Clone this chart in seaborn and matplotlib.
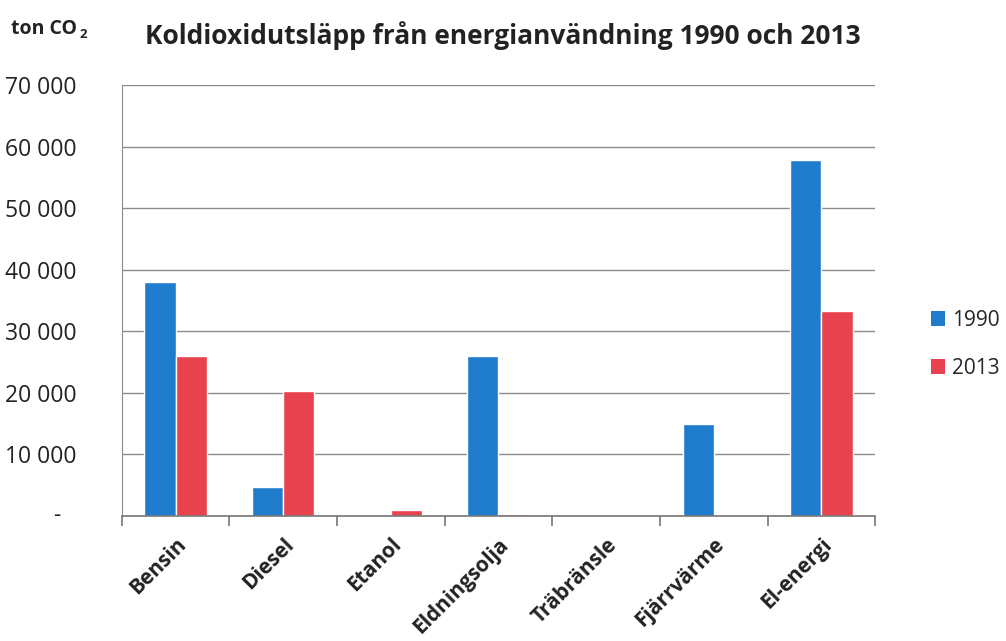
import matplotlib
matplotlib.use('Agg')
import matplotlib.pyplot as plt
import pandas as pd
import seaborn as sns

# values (ton CO2)
categories = ['Bensin', 'Diesel', 'Etanol', 'Eldningsolja', 'Träbränsle', 'Fjärrvärme', 'El-energi']
years = ['1990', '2013']
values_1990 = [38000, 4700, 0, 26000, 0, 15000, 57800]
values_2013 = [26000, 20300, 1000, 400, 0, 0, 33300]
ytick_values = [0, 10000, 20000, 30000, 40000, 50000, 60000, 70000]
ytick_labels = ['', '10 000', '20 000', '30 000', '40 000', '50 000', '60 000', '70 000']

df = pd.DataFrame({
    'Kategori': categories * 2,
    'År': [years[0]] * len(categories) + [years[1]] * len(categories),
    'Utsläpp': values_1990 + values_2013,
})

sns.set_style('white')
plt.rcParams['font.family'] = ['Open Sans', 'DejaVu Sans']

colors = ['#1f7ccc', '#e8424f']

fig = plt.figure(figsize=(10.06, 6.41), dpi=100)
ax = fig.add_axes([0.121, 0.195, 0.749, 0.672])

sns.barplot(data=df, x='Kategori', y='Utsläpp', hue='År', palette=colors,
            width=0.58, saturation=1, ax=ax, legend=False)

ax.set_ylim(0, 70000)
ax.set_xlim(-0.5, len(categories) - 0.5)
ax.set_yticks(ytick_values)
ax.set_yticklabels(ytick_labels, fontsize=16.5, color='#222222', ha='left')
ax.tick_params(axis='y', length=0, pad=84)
# zero is shown as a dash
ax.annotate('-', xy=(0, 0), xycoords=('figure pixels', 'data'),
            xytext=(57, 0), textcoords='offset pixels', ha='center', va='center',
            fontsize=16.5, color='#222222')

ax.yaxis.grid(True, color='#8c8c8c', linewidth=1)
ax.set_axisbelow(True)
for s in ['top', 'right']:
    ax.spines[s].set_visible(False)
ax.spines['left'].set_color('#8c8c8c')
ax.spines['bottom'].set_color('#777777')
ax.spines['bottom'].set_linewidth(1.2)

# x tick labels at category centers, tick marks between categories
ax.set_xticks(range(len(categories)))
ax.set_xticklabels(categories, rotation=45, ha='right', rotation_mode='anchor',
                   fontsize=15, fontweight='bold', color='#222222')
ax.tick_params(axis='x', which='major', length=0, pad=13)
ax.set_xticks([i - 0.5 for i in range(len(categories) + 1)], minor=True)
ax.tick_params(axis='x', which='minor', bottom=True, length=7, color='#777777',
               width=1.2, direction='out')
ax.set_xlabel('')
ax.set_ylabel('')

fig.text(0.5, 0.945, 'Koldioxidutsläpp från energianvändning 1990 och 2013',
         ha='center', va='center', fontsize=19, fontweight='bold', color='#222222')
unit = fig.text(0.011, 0.955, 'ton CO', ha='left', va='center', fontsize=14,
                fontweight='bold', color='#222222')
fig.canvas.draw()
bb = unit.get_window_extent()
fig.text((bb.x1 + 2) / fig.bbox.width, (bb.y0 - 2) / fig.bbox.height, '2',
         ha='left', va='bottom', fontsize=9.5, fontweight='bold', color='#222222')

handles = [plt.Rectangle((0, 0), 1, 1, fc=c, ec='none') for c in colors]
fig.legend(handles=handles, labels=years, loc='center left',
           bbox_to_anchor=(0.925, 0.463), frameon=False, fontsize=15,
           borderpad=0, borderaxespad=0,
           handlelength=0.7, handleheight=0.7, handletextpad=0.35, labelspacing=1.3)

fig.savefig('out.png', dpi=100)
